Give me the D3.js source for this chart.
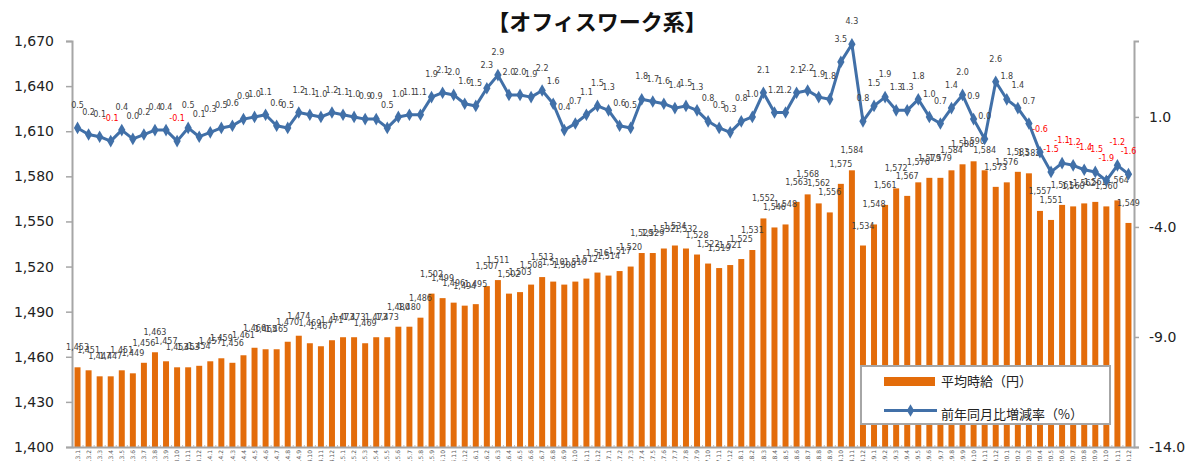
<!DOCTYPE html>
<html>
<head>
<meta charset="utf-8">
<script src="https://cdn.jsdelivr.net/npm/d3@7"></script>
<style>
  body { margin: 0; background: #fff; }
  svg { display: block; }
</style>
</head>
<body>
<div id="chart"></div>
<script>
// months 13.1 .. 20.12
var years = [13, 14, 15, 16, 17, 18, 19, 20];
var months = [];
years.forEach(function (y) {
    for (var m = 1; m <= 12; m++) months.push(y + "." + m);
});

// 平均時給（円）
var wage = [
    1453, 1451, 1447, 1447, 1451, 1449, 1456, 1463, 1457, 1453, 1453, 1454,
    1457, 1459, 1456, 1461, 1466, 1465, 1465, 1470, 1474, 1469, 1467, 1471,
    1473, 1473, 1469, 1473, 1473, 1480, 1480, 1486, 1502, 1499, 1496, 1494,
    1495, 1507, 1511, 1502, 1503, 1508, 1513, 1510, 1508, 1510, 1512, 1516,
    1514, 1517, 1520, 1529, 1529, 1532, 1534, 1532, 1528, 1522, 1519, 1521,
    1525, 1531, 1552, 1546, 1548, 1563, 1568, 1562, 1556, 1575, 1584, 1534,
    1548, 1561, 1572, 1567, 1576, 1579, 1579, 1584, 1588, 1590, 1584, 1573,
    1576, 1583, 1582, 1557, 1551, 1561, 1560, 1562, 1563, 1560, 1564, 1549
];

// 前年同月比増減率（%）
var yoy = [
    0.5, 0.2, 0.1, -0.1, 0.4, 0.0, 0.2, 0.4, 0.4, -0.1, 0.5, 0.1,
    0.3, 0.5, 0.6, 0.9, 1.0, 1.1, 0.6, 0.5, 1.2, 1.1, 1.0, 1.2,
    1.1, 1.0, 0.9, 0.9, 0.5, 1.0, 1.1, 1.1, 1.9, 2.1, 2.0, 1.6,
    1.5, 2.3, 2.9, 2.0, 2.0, 1.9, 2.2, 1.6, 0.4, 0.7, 1.1, 1.5,
    1.3, 0.6, 0.5, 1.8, 1.7, 1.6, 1.4, 1.5, 1.3, 0.8, 0.5, 0.3,
    0.8, 1.0, 2.1, 1.2, 1.2, 2.1, 2.2, 1.9, 1.8, 3.5, 4.3, 0.8,
    1.5, 1.9, 1.3, 1.3, 1.8, 1.0, 0.7, 1.4, 2.0, 0.9, 0.0, 2.6,
    1.8, 1.4, 0.7, -0.6, -1.5, -1.1, -1.2, -1.4, -1.5, -1.9, -1.2, -1.6
];

var leftTicks = d3.range(1400, 1671, 30);
var rightTicks = [1.0, -4.0, -9.0, -14.0];

var title = "【オフィスワーク系】";
var legendNames = ["平均時給（円）", "前年同月比増減率（%）"];

var W = 1190, H = 461;
var barColor = "#e36c0a", lineColor = "#4170a8", axisColor = "#a6a6a6";

// excel style: plain hyphen for negatives
var pct = function (d) { return d3.format(".1f")(d).replace("\u2212", "-"); };

var svg = d3.select("#chart").append("svg")
    .attr("width", W)
    .attr("height", H);

var x = d3.scaleBand()
    .domain(months)
    .range([72, 1134])
    .paddingInner(0.46)
    .paddingOuter(0.23);

var yL = d3.scaleLinear().domain([1400, 1670]).range([447, 41]);
var yR = d3.scaleLinear().domain([-14, 4.45]).range([447, 41]);

//title
svg.append("text")
    .attr("x", 597)
    .attr("y", 30)
    .attr("text-anchor", "middle")
    .style("font", "bold 22px 'Noto Sans CJK JP'")
    .style("fill", "#111")
    .text(title);

//bars
svg.append("g").selectAll("rect")
    .data(wage)
    .enter()
    .append("rect")
    .attr("x", function (d, i) { return x(months[i]); })
    .attr("y", function (d) { return yL(d); })
    .attr("width", x.bandwidth())
    .attr("height", function (d) { return yL(1400) - yL(d); })
    .style("fill", barColor);

//axes
var axL = svg.append("g")
    .attr("transform", "translate(72,0)")
    .call(d3.axisLeft(yL).tickValues(leftTicks).tickFormat(d3.format(",")).tickSize(6).tickPadding(12));

var axR = svg.append("g")
    .attr("transform", "translate(1134,0)")
    .call(d3.axisRight(yR).tickValues(rightTicks).tickFormat(pct).tickSize(5).tickPadding(10));

[axL, axR].forEach(function (a) {
    a.select(".domain").attr("stroke", axisColor).attr("stroke-width", 2);
    a.selectAll(".tick line").attr("stroke", axisColor).attr("stroke-width", 1.5);
    a.selectAll(".tick text")
        .style("font", "14px 'DejaVu Sans'")
        .style("fill", "#222");
});

var axB = svg.append("g")
    .attr("transform", "translate(0,447)")
    .call(d3.axisBottom(x).tickSize(0).tickPadding(0));
axB.select(".domain").attr("stroke", axisColor).attr("stroke-width", 2);
axB.selectAll(".tick text")
    .attr("transform", "translate(0,3) rotate(-90)")
    .attr("text-anchor", "end")
    .attr("dx", 0)
    .attr("dy", "0.35em")
    .attr("y", 0)
    .style("font", "6px 'DejaVu Sans'")
    .style("fill", "#595959");

// small category separators
svg.append("g").selectAll("line")
    .data(months.slice(1))
    .enter()
    .append("line")
    .attr("x1", function (d) { return x(d) - x.step() * x.paddingInner() / 2; })
    .attr("x2", function (d) { return x(d) - x.step() * x.paddingInner() / 2; })
    .attr("y1", 445)
    .attr("y2", 447)
    .style("stroke", "#bbb");

//bar labels
svg.append("g").selectAll("text")
    .data(wage)
    .enter()
    .append("text")
    .attr("x", function (d, i) { return x(months[i]) + x.bandwidth() / 2; })
    .attr("y", function (d) { return yL(d) - 17; })
    .attr("text-anchor", "middle")
    .style("font", "8px 'DejaVu Sans'")
    .style("fill", "#404040")
    .text(function (d) { return d3.format(",")(d); });

//line
var line = d3.line()
    .x(function (d, i) { return x(months[i]) + x.bandwidth() / 2; })
    .y(function (d) { return yR(d); });

svg.append("path")
    .datum(yoy)
    .attr("d", line)
    .style("fill", "none")
    .style("stroke", lineColor)
    .style("stroke-width", 3)
    .style("stroke-linejoin", "round");

var diamond = d3.symbol().type(d3.symbolDiamond).size(46);

svg.append("g").selectAll("path")
    .data(yoy)
    .enter()
    .append("path")
    .attr("d", diamond)
    .attr("transform", function (d, i) {
        return "translate(" + (x(months[i]) + x.bandwidth() / 2) + "," + yR(d) + ")";
    })
    .style("fill", lineColor);

svg.append("g").selectAll("text")
    .data(yoy)
    .enter()
    .append("text")
    .attr("x", function (d, i) { return x(months[i]) + x.bandwidth() / 2; })
    .attr("y", function (d) { return yR(d) - 20; })
    .attr("text-anchor", "middle")
    .style("font", "8px 'DejaVu Sans'")
    .style("fill", function (d) { return d < 0 ? "#ff0000" : "#404040"; })
    .text(pct);

//legend
var lg = svg.append("g").attr("transform", "translate(861,366)");
lg.append("rect")
    .attr("width", 249)
    .attr("height", 58)
    .style("fill", "#fff")
    .style("stroke", axisColor)
    .style("stroke-width", 2);
lg.append("rect")
    .attr("x", 23).attr("y", 11)
    .attr("width", 51).attr("height", 9)
    .style("fill", barColor);
lg.append("line")
    .attr("x1", 23).attr("x2", 76)
    .attr("y1", 44.5).attr("y2", 44.5)
    .style("stroke", lineColor)
    .style("stroke-width", 3);
lg.append("path")
    .attr("d", diamond)
    .attr("transform", "translate(49.5,44.5)")
    .style("fill", lineColor);
lg.selectAll("text.name")
    .data(legendNames)
    .enter()
    .append("text")
    .attr("class", "name")
    .attr("x", 80)
    .attr("y", function (d, i) { return 20 + i * 33; })
    .style("font", "13px 'Noto Sans CJK JP'")
    .style("fill", "#222")
    .text(function (d) { return d; });
</script>
</body>
</html>
